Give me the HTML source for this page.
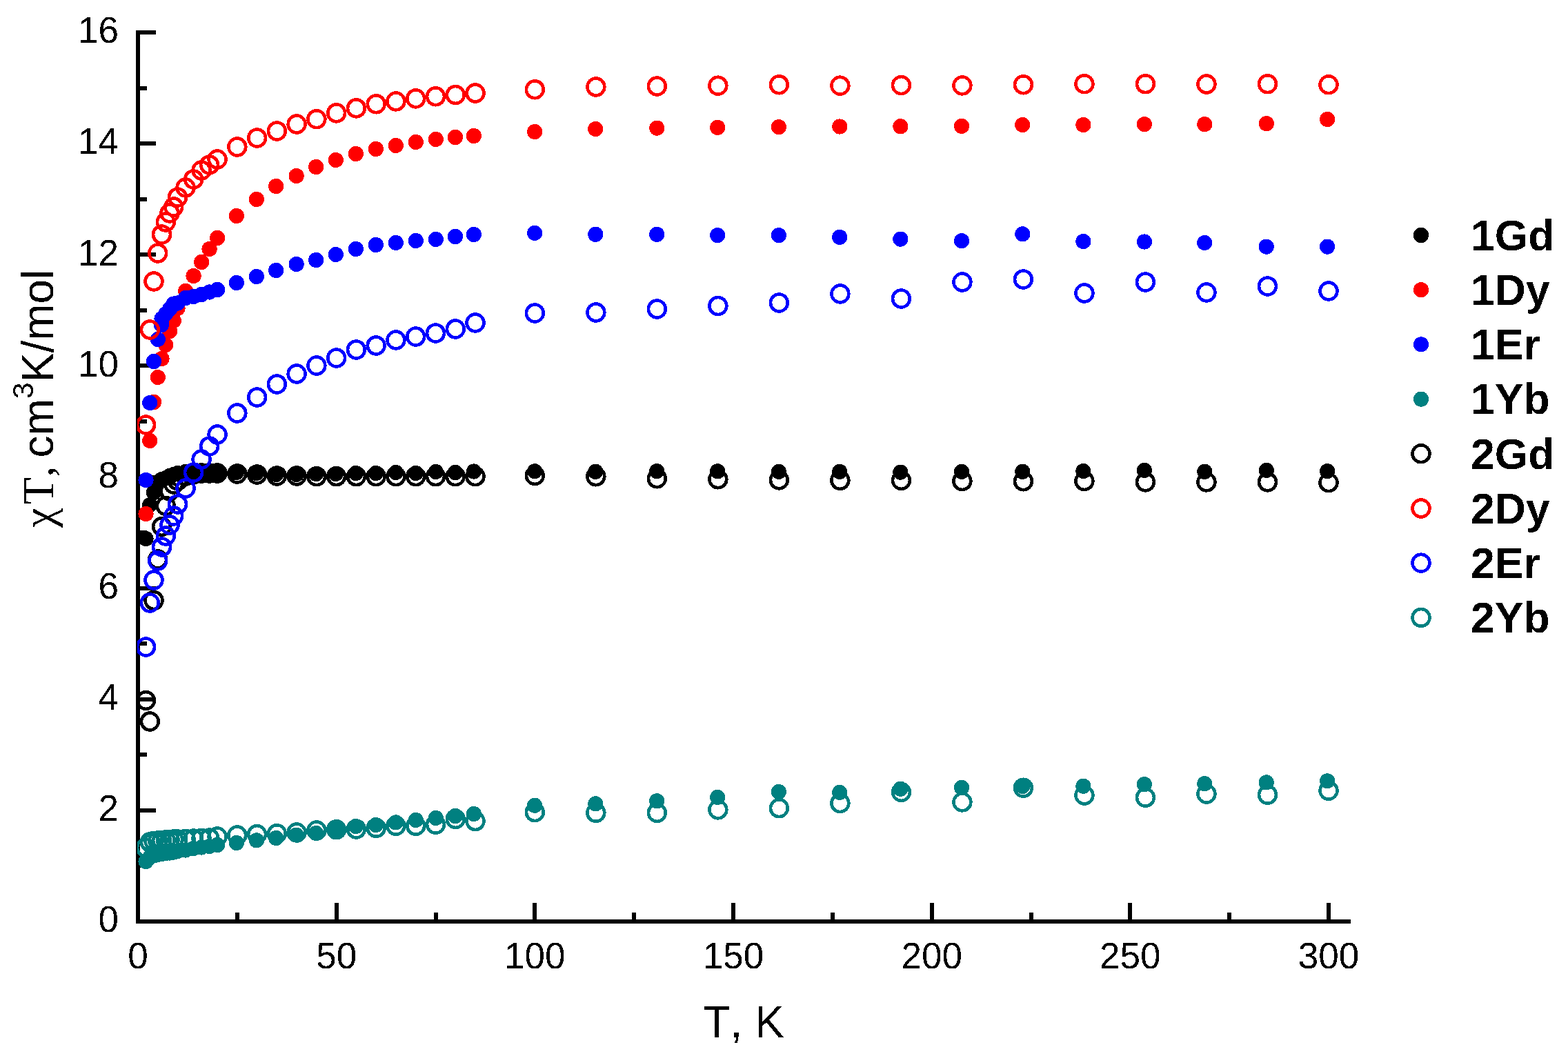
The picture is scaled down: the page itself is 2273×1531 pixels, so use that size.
<!DOCTYPE html>
<html lang="en"><head><meta charset="utf-8"><title>χT vs T</title>
<style>
html,body{margin:0;padding:0;background:#fff;width:2273px;height:1531px;overflow:hidden;}
svg{display:block;}
text{font-kerning:none;}
</style></head><body>
<svg width="2273" height="1531" viewBox="0 0 2273 1531" shape-rendering="crispEdges">
<defs><filter id="bin" x="0" y="0" width="2273" height="1531" filterUnits="userSpaceOnUse" color-interpolation-filters="sRGB"><feComponentTransfer><feFuncA type="discrete" tableValues="0 1"/></feComponentTransfer></filter><clipPath id="pc"><rect x="199" y="0" width="2074" height="1531"/></clipPath></defs>
<rect x="0" y="0" width="2273" height="1531" fill="#fff"/>
<g fill="#000"><rect x="197" y="44" width="6" height="1295"/><rect x="197" y="1333" width="1761" height="6"/><rect x="197" y="1333.00" width="29" height="6"/><rect x="197" y="1252.44" width="16" height="6"/><rect x="197" y="1171.88" width="29" height="6"/><rect x="197" y="1091.31" width="16" height="6"/><rect x="197" y="1010.75" width="29" height="6"/><rect x="197" y="930.19" width="16" height="6"/><rect x="197" y="849.62" width="29" height="6"/><rect x="197" y="769.06" width="16" height="6"/><rect x="197" y="688.50" width="29" height="6"/><rect x="197" y="607.94" width="16" height="6"/><rect x="197" y="527.38" width="29" height="6"/><rect x="197" y="446.81" width="16" height="6"/><rect x="197" y="366.25" width="29" height="6"/><rect x="197" y="285.69" width="16" height="6"/><rect x="197" y="205.12" width="29" height="6"/><rect x="197" y="124.56" width="16" height="6"/><rect x="197" y="44.00" width="29" height="6"/><rect x="197.00" y="1309" width="6" height="30"/><rect x="340.83" y="1323" width="6" height="16"/><rect x="484.67" y="1309" width="6" height="30"/><rect x="628.50" y="1323" width="6" height="16"/><rect x="772.33" y="1309" width="6" height="30"/><rect x="916.17" y="1323" width="6" height="16"/><rect x="1060.00" y="1309" width="6" height="30"/><rect x="1203.83" y="1323" width="6" height="16"/><rect x="1347.67" y="1309" width="6" height="30"/><rect x="1491.50" y="1323" width="6" height="16"/><rect x="1635.33" y="1309" width="6" height="30"/><rect x="1779.17" y="1323" width="6" height="16"/><rect x="1923.00" y="1309" width="6" height="30"/></g>
<g font-family="'Liberation Sans', Arial, sans-serif" font-size="53" fill="#000" filter="url(#bin)"><text x="172" y="1351.3" text-anchor="end">0</text><text x="172" y="1190.2" text-anchor="end">2</text><text x="172" y="1029.0" text-anchor="end">4</text><text x="172" y="867.9" text-anchor="end">6</text><text x="172" y="706.8" text-anchor="end">8</text><text x="172" y="545.7" text-anchor="end">10</text><text x="172" y="384.6" text-anchor="end">12</text><text x="172" y="223.4" text-anchor="end">14</text><text x="172" y="62.3" text-anchor="end">16</text><text x="200.0" y="1404" text-anchor="middle">0</text><text x="487.7" y="1404" text-anchor="middle">50</text><text x="775.3" y="1404" text-anchor="middle">100</text><text x="1063.0" y="1404" text-anchor="middle">150</text><text x="1350.7" y="1404" text-anchor="middle">200</text><text x="1638.3" y="1404" text-anchor="middle">250</text><text x="1926.0" y="1404" text-anchor="middle">300</text></g>
<g fill="#000" filter="url(#bin)"><text x="1019.5" y="1504" font-family="'Liberation Sans', Arial, sans-serif" font-size="64">T, K</text><text transform="translate(77,0) rotate(-90)" font-size="64"><tspan x="-764.7" font-family="'Liberation Serif', 'Times New Roman', serif">χ</tspan><tspan x="-731.3" font-family="'Liberation Serif', 'Times New Roman', serif">T</tspan><tspan x="-691.5" font-family="'Liberation Serif', 'Times New Roman', serif">,</tspan><tspan x="-663.5" font-family="'Liberation Sans', Arial, sans-serif">cm</tspan><tspan font-family="'Liberation Sans', Arial, sans-serif" font-size="43" dy="-29">3</tspan><tspan font-family="'Liberation Sans', Arial, sans-serif" dy="29">K/mol</tspan></text></g>
<g clip-path="url(#pc)">
<g fill="#000000"><circle cx="211.51" cy="781.00" r="11.1"/><circle cx="217.26" cy="732.00" r="11.1"/><circle cx="223.01" cy="714.00" r="11.1"/><circle cx="228.77" cy="699.00" r="11.1"/><circle cx="234.52" cy="695.00" r="11.1"/><circle cx="240.27" cy="693.00" r="11.1"/><circle cx="246.03" cy="690.00" r="11.1"/><circle cx="251.78" cy="688.00" r="11.1"/><circle cx="257.53" cy="686.00" r="11.1"/><circle cx="269.04" cy="684.00" r="11.1"/><circle cx="280.55" cy="684.00" r="11.1"/><circle cx="292.05" cy="685.00" r="11.1"/><circle cx="303.56" cy="685.00" r="11.1"/><circle cx="315.07" cy="685.00" r="11.1"/><circle cx="342.90" cy="685.00" r="11.1"/><circle cx="371.90" cy="686.00" r="11.1"/><circle cx="400.10" cy="688.00" r="11.1"/><circle cx="429.60" cy="688.00" r="11.1"/><circle cx="458.10" cy="687.00" r="11.1"/><circle cx="486.70" cy="687.00" r="11.1"/><circle cx="515.90" cy="686.00" r="11.1"/><circle cx="544.90" cy="686.00" r="11.1"/><circle cx="573.80" cy="685.00" r="11.1"/><circle cx="602.80" cy="686.00" r="11.1"/><circle cx="631.80" cy="684.00" r="11.1"/><circle cx="660.00" cy="685.00" r="11.1"/><circle cx="686.90" cy="683.50" r="11.1"/><circle cx="775.10" cy="683.30" r="11.1"/><circle cx="863.30" cy="683.80" r="11.1"/><circle cx="952.20" cy="683.10" r="11.1"/><circle cx="1040.20" cy="683.30" r="11.1"/><circle cx="1128.90" cy="683.80" r="11.1"/><circle cx="1217.20" cy="683.80" r="11.1"/><circle cx="1305.40" cy="684.60" r="11.1"/><circle cx="1394.00" cy="683.80" r="11.1"/><circle cx="1482.30" cy="683.80" r="11.1"/><circle cx="1570.40" cy="683.10" r="11.1"/><circle cx="1658.90" cy="681.90" r="11.1"/><circle cx="1746.30" cy="683.80" r="11.1"/><circle cx="1835.80" cy="681.90" r="11.1"/><circle cx="1924.10" cy="683.10" r="11.1"/></g>
<g fill="#ff0000"><circle cx="211.51" cy="745.00" r="11.1"/><circle cx="217.26" cy="639.00" r="11.1"/><circle cx="223.01" cy="583.00" r="11.1"/><circle cx="228.77" cy="547.00" r="11.1"/><circle cx="234.52" cy="520.00" r="11.1"/><circle cx="240.27" cy="500.00" r="11.1"/><circle cx="246.03" cy="480.00" r="11.1"/><circle cx="251.78" cy="465.00" r="11.1"/><circle cx="257.53" cy="447.00" r="11.1"/><circle cx="269.04" cy="422.00" r="11.1"/><circle cx="280.55" cy="400.00" r="11.1"/><circle cx="292.05" cy="380.00" r="11.1"/><circle cx="303.56" cy="361.00" r="11.1"/><circle cx="315.07" cy="345.00" r="11.1"/><circle cx="342.90" cy="313.00" r="11.1"/><circle cx="371.90" cy="289.00" r="11.1"/><circle cx="400.10" cy="270.00" r="11.1"/><circle cx="429.60" cy="255.00" r="11.1"/><circle cx="458.10" cy="242.00" r="11.1"/><circle cx="486.70" cy="232.00" r="11.1"/><circle cx="515.90" cy="223.00" r="11.1"/><circle cx="544.90" cy="216.00" r="11.1"/><circle cx="573.80" cy="211.00" r="11.1"/><circle cx="602.80" cy="206.00" r="11.1"/><circle cx="631.80" cy="202.00" r="11.1"/><circle cx="660.00" cy="199.00" r="11.1"/><circle cx="686.90" cy="197.00" r="11.1"/><circle cx="775.10" cy="191.00" r="11.1"/><circle cx="863.30" cy="187.00" r="11.1"/><circle cx="952.20" cy="185.60" r="11.1"/><circle cx="1040.20" cy="184.80" r="11.1"/><circle cx="1128.90" cy="184.10" r="11.1"/><circle cx="1217.20" cy="183.50" r="11.1"/><circle cx="1305.40" cy="183.20" r="11.1"/><circle cx="1394.00" cy="182.90" r="11.1"/><circle cx="1482.30" cy="181.00" r="11.1"/><circle cx="1570.40" cy="181.00" r="11.1"/><circle cx="1658.90" cy="180.20" r="11.1"/><circle cx="1746.30" cy="180.20" r="11.1"/><circle cx="1835.80" cy="179.20" r="11.1"/><circle cx="1924.10" cy="173.00" r="11.1"/></g>
<g fill="#0000ff"><circle cx="211.51" cy="696.00" r="11.1"/><circle cx="217.26" cy="584.00" r="11.1"/><circle cx="223.01" cy="524.00" r="11.1"/><circle cx="228.77" cy="492.00" r="11.1"/><circle cx="234.52" cy="462.00" r="11.1"/><circle cx="240.27" cy="455.00" r="11.1"/><circle cx="246.03" cy="448.00" r="11.1"/><circle cx="251.78" cy="440.50" r="11.1"/><circle cx="257.53" cy="439.50" r="11.1"/><circle cx="269.04" cy="432.00" r="11.1"/><circle cx="280.55" cy="430.00" r="11.1"/><circle cx="292.05" cy="427.00" r="11.1"/><circle cx="303.56" cy="423.50" r="11.1"/><circle cx="315.07" cy="420.00" r="11.1"/><circle cx="342.90" cy="410.00" r="11.1"/><circle cx="371.90" cy="401.00" r="11.1"/><circle cx="400.10" cy="392.00" r="11.1"/><circle cx="429.60" cy="383.00" r="11.1"/><circle cx="458.10" cy="377.00" r="11.1"/><circle cx="486.70" cy="369.00" r="11.1"/><circle cx="515.90" cy="361.00" r="11.1"/><circle cx="544.90" cy="355.00" r="11.1"/><circle cx="573.80" cy="352.00" r="11.1"/><circle cx="602.80" cy="349.00" r="11.1"/><circle cx="631.80" cy="347.00" r="11.1"/><circle cx="660.00" cy="343.00" r="11.1"/><circle cx="686.90" cy="340.00" r="11.1"/><circle cx="775.10" cy="337.80" r="11.1"/><circle cx="863.30" cy="339.80" r="11.1"/><circle cx="952.20" cy="339.80" r="11.1"/><circle cx="1040.20" cy="341.10" r="11.1"/><circle cx="1128.90" cy="341.10" r="11.1"/><circle cx="1217.20" cy="343.80" r="11.1"/><circle cx="1305.40" cy="346.60" r="11.1"/><circle cx="1394.00" cy="349.20" r="11.1"/><circle cx="1482.30" cy="339.30" r="11.1"/><circle cx="1570.40" cy="350.00" r="11.1"/><circle cx="1658.90" cy="350.50" r="11.1"/><circle cx="1746.30" cy="352.00" r="11.1"/><circle cx="1835.80" cy="357.60" r="11.1"/><circle cx="1924.10" cy="357.60" r="11.1"/><circle cx="234.00" cy="471.00" r="11.1"/></g>
<g fill="#008080"><circle cx="211.51" cy="1249.00" r="11.1"/><circle cx="217.26" cy="1243.00" r="11.1"/><circle cx="223.01" cy="1240.50" r="11.1"/><circle cx="228.77" cy="1239.00" r="11.1"/><circle cx="234.52" cy="1238.00" r="11.1"/><circle cx="240.27" cy="1237.00" r="11.1"/><circle cx="246.03" cy="1236.50" r="11.1"/><circle cx="251.78" cy="1235.50" r="11.1"/><circle cx="257.53" cy="1234.00" r="11.1"/><circle cx="269.04" cy="1232.50" r="11.1"/><circle cx="280.55" cy="1230.00" r="11.1"/><circle cx="292.05" cy="1228.50" r="11.1"/><circle cx="303.56" cy="1227.00" r="11.1"/><circle cx="315.07" cy="1225.00" r="11.1"/><circle cx="342.90" cy="1222.00" r="11.1"/><circle cx="371.90" cy="1218.40" r="11.1"/><circle cx="400.10" cy="1215.00" r="11.1"/><circle cx="429.60" cy="1210.60" r="11.1"/><circle cx="458.10" cy="1208.00" r="11.1"/><circle cx="486.70" cy="1203.00" r="11.1"/><circle cx="515.90" cy="1198.00" r="11.1"/><circle cx="544.90" cy="1196.00" r="11.1"/><circle cx="573.80" cy="1192.40" r="11.1"/><circle cx="602.80" cy="1189.00" r="11.1"/><circle cx="631.80" cy="1186.00" r="11.1"/><circle cx="660.00" cy="1183.00" r="11.1"/><circle cx="686.90" cy="1180.00" r="11.1"/><circle cx="775.10" cy="1167.70" r="11.1"/><circle cx="863.30" cy="1165.30" r="11.1"/><circle cx="952.20" cy="1161.30" r="11.1"/><circle cx="1040.20" cy="1155.90" r="11.1"/><circle cx="1128.90" cy="1148.00" r="11.1"/><circle cx="1217.20" cy="1148.90" r="11.1"/><circle cx="1305.40" cy="1143.80" r="11.1"/><circle cx="1394.00" cy="1141.90" r="11.1"/><circle cx="1482.30" cy="1140.00" r="11.1"/><circle cx="1570.40" cy="1139.80" r="11.1"/><circle cx="1658.90" cy="1137.10" r="11.1"/><circle cx="1746.30" cy="1136.20" r="11.1"/><circle cx="1835.80" cy="1134.40" r="11.1"/><circle cx="1924.10" cy="1132.30" r="11.1"/></g>
<g fill="none" stroke="#000000" stroke-width="4.6"><circle cx="211.51" cy="1015.50" r="12.45"/><circle cx="217.26" cy="1046.00" r="12.45"/><circle cx="223.01" cy="870.50" r="12.45"/><circle cx="228.77" cy="811.00" r="12.45"/><circle cx="234.52" cy="763.50" r="12.45"/><circle cx="240.27" cy="733.50" r="12.45"/><circle cx="246.03" cy="712.00" r="12.45"/><circle cx="251.78" cy="702.00" r="12.45"/><circle cx="257.53" cy="697.00" r="12.45"/><circle cx="269.04" cy="690.00" r="12.45"/><circle cx="280.55" cy="688.00" r="12.45"/><circle cx="292.05" cy="686.00" r="12.45"/><circle cx="303.56" cy="686.00" r="12.45"/><circle cx="315.07" cy="686.00" r="12.45"/><circle cx="343.83" cy="687.00" r="12.45"/><circle cx="372.60" cy="688.00" r="12.45"/><circle cx="401.37" cy="690.00" r="12.45"/><circle cx="430.13" cy="690.00" r="12.45"/><circle cx="458.90" cy="690.70" r="12.45"/><circle cx="487.67" cy="690.70" r="12.45"/><circle cx="516.43" cy="690.70" r="12.45"/><circle cx="545.20" cy="690.70" r="12.45"/><circle cx="573.97" cy="690.70" r="12.45"/><circle cx="602.73" cy="690.70" r="12.45"/><circle cx="631.50" cy="690.70" r="12.45"/><circle cx="660.27" cy="690.70" r="12.45"/><circle cx="689.03" cy="690.70" r="12.45"/><circle cx="775.33" cy="689.50" r="12.45"/><circle cx="863.85" cy="690.80" r="12.45"/><circle cx="952.36" cy="693.80" r="12.45"/><circle cx="1040.87" cy="694.80" r="12.45"/><circle cx="1129.38" cy="695.90" r="12.45"/><circle cx="1217.90" cy="696.40" r="12.45"/><circle cx="1306.41" cy="696.40" r="12.45"/><circle cx="1394.92" cy="697.50" r="12.45"/><circle cx="1483.44" cy="697.80" r="12.45"/><circle cx="1571.95" cy="697.50" r="12.45"/><circle cx="1660.46" cy="698.90" r="12.45"/><circle cx="1748.97" cy="698.90" r="12.45"/><circle cx="1837.49" cy="698.90" r="12.45"/><circle cx="1926.00" cy="699.70" r="12.45"/></g>
<g fill="none" stroke="#ff0000" stroke-width="4.6"><circle cx="211.51" cy="616.00" r="12.45"/><circle cx="217.26" cy="478.00" r="12.45"/><circle cx="223.01" cy="408.00" r="12.45"/><circle cx="228.77" cy="367.00" r="12.45"/><circle cx="234.52" cy="340.00" r="12.45"/><circle cx="240.27" cy="322.00" r="12.45"/><circle cx="246.03" cy="309.00" r="12.45"/><circle cx="251.78" cy="300.00" r="12.45"/><circle cx="257.53" cy="286.00" r="12.45"/><circle cx="269.04" cy="272.00" r="12.45"/><circle cx="280.55" cy="260.00" r="12.45"/><circle cx="292.05" cy="247.00" r="12.45"/><circle cx="303.56" cy="239.00" r="12.45"/><circle cx="315.07" cy="231.00" r="12.45"/><circle cx="343.83" cy="213.00" r="12.45"/><circle cx="372.60" cy="200.00" r="12.45"/><circle cx="401.37" cy="190.00" r="12.45"/><circle cx="430.13" cy="180.00" r="12.45"/><circle cx="458.90" cy="172.70" r="12.45"/><circle cx="487.67" cy="163.90" r="12.45"/><circle cx="516.43" cy="156.90" r="12.45"/><circle cx="545.20" cy="150.80" r="12.45"/><circle cx="573.97" cy="146.90" r="12.45"/><circle cx="602.73" cy="142.90" r="12.45"/><circle cx="631.50" cy="139.80" r="12.45"/><circle cx="660.27" cy="137.50" r="12.45"/><circle cx="689.03" cy="135.00" r="12.45"/><circle cx="775.33" cy="129.80" r="12.45"/><circle cx="863.85" cy="126.00" r="12.45"/><circle cx="952.36" cy="125.00" r="12.45"/><circle cx="1040.87" cy="124.20" r="12.45"/><circle cx="1129.38" cy="122.80" r="12.45"/><circle cx="1217.90" cy="124.20" r="12.45"/><circle cx="1306.41" cy="123.60" r="12.45"/><circle cx="1394.92" cy="123.90" r="12.45"/><circle cx="1483.44" cy="122.80" r="12.45"/><circle cx="1571.95" cy="121.70" r="12.45"/><circle cx="1660.46" cy="121.70" r="12.45"/><circle cx="1748.97" cy="122.00" r="12.45"/><circle cx="1837.49" cy="121.70" r="12.45"/><circle cx="1926.00" cy="122.80" r="12.45"/></g>
<g fill="none" stroke="#0000ff" stroke-width="4.6"><circle cx="211.51" cy="938.00" r="12.45"/><circle cx="217.26" cy="874.00" r="12.45"/><circle cx="223.01" cy="841.00" r="12.45"/><circle cx="228.77" cy="813.00" r="12.45"/><circle cx="234.52" cy="793.00" r="12.45"/><circle cx="240.27" cy="777.00" r="12.45"/><circle cx="246.03" cy="761.00" r="12.45"/><circle cx="251.78" cy="748.00" r="12.45"/><circle cx="257.53" cy="731.00" r="12.45"/><circle cx="269.04" cy="708.00" r="12.45"/><circle cx="280.55" cy="685.00" r="12.45"/><circle cx="292.05" cy="666.00" r="12.45"/><circle cx="303.56" cy="647.00" r="12.45"/><circle cx="315.07" cy="630.00" r="12.45"/><circle cx="343.83" cy="599.00" r="12.45"/><circle cx="372.60" cy="576.00" r="12.45"/><circle cx="401.37" cy="557.00" r="12.45"/><circle cx="430.13" cy="542.00" r="12.45"/><circle cx="458.90" cy="530.00" r="12.45"/><circle cx="487.67" cy="519.00" r="12.45"/><circle cx="516.43" cy="507.00" r="12.45"/><circle cx="545.20" cy="501.00" r="12.45"/><circle cx="573.97" cy="493.00" r="12.45"/><circle cx="602.73" cy="488.00" r="12.45"/><circle cx="631.50" cy="483.00" r="12.45"/><circle cx="660.27" cy="477.00" r="12.45"/><circle cx="689.03" cy="468.00" r="12.45"/><circle cx="775.33" cy="454.00" r="12.45"/><circle cx="863.85" cy="453.00" r="12.45"/><circle cx="952.36" cy="448.00" r="12.45"/><circle cx="1040.87" cy="443.50" r="12.45"/><circle cx="1129.38" cy="439.00" r="12.45"/><circle cx="1217.90" cy="426.00" r="12.45"/><circle cx="1306.41" cy="433.00" r="12.45"/><circle cx="1394.92" cy="409.00" r="12.45"/><circle cx="1483.44" cy="405.00" r="12.45"/><circle cx="1571.95" cy="425.00" r="12.45"/><circle cx="1660.46" cy="409.00" r="12.45"/><circle cx="1748.97" cy="424.00" r="12.45"/><circle cx="1837.49" cy="415.00" r="12.45"/><circle cx="1926.00" cy="422.00" r="12.45"/></g>
<g fill="none" stroke="#008080" stroke-width="4.6"><circle cx="211.51" cy="1229.00" r="12.45"/><circle cx="217.26" cy="1221.00" r="12.45"/><circle cx="223.01" cy="1219.50" r="12.45"/><circle cx="228.77" cy="1219.00" r="12.45"/><circle cx="234.52" cy="1218.50" r="12.45"/><circle cx="240.27" cy="1218.00" r="12.45"/><circle cx="246.03" cy="1217.50" r="12.45"/><circle cx="251.78" cy="1217.00" r="12.45"/><circle cx="257.53" cy="1217.00" r="12.45"/><circle cx="269.04" cy="1216.50" r="12.45"/><circle cx="280.55" cy="1216.00" r="12.45"/><circle cx="292.05" cy="1215.50" r="12.45"/><circle cx="303.56" cy="1215.00" r="12.45"/><circle cx="315.07" cy="1213.00" r="12.45"/><circle cx="343.83" cy="1211.00" r="12.45"/><circle cx="372.60" cy="1209.60" r="12.45"/><circle cx="401.37" cy="1208.70" r="12.45"/><circle cx="430.13" cy="1207.00" r="12.45"/><circle cx="458.90" cy="1204.00" r="12.45"/><circle cx="487.67" cy="1202.70" r="12.45"/><circle cx="516.43" cy="1202.00" r="12.45"/><circle cx="545.20" cy="1200.40" r="12.45"/><circle cx="573.97" cy="1197.30" r="12.45"/><circle cx="602.73" cy="1197.30" r="12.45"/><circle cx="631.50" cy="1195.30" r="12.45"/><circle cx="660.27" cy="1187.50" r="12.45"/><circle cx="689.03" cy="1190.50" r="12.45"/><circle cx="775.33" cy="1177.60" r="12.45"/><circle cx="863.85" cy="1178.40" r="12.45"/><circle cx="952.36" cy="1178.40" r="12.45"/><circle cx="1040.87" cy="1173.90" r="12.45"/><circle cx="1129.38" cy="1171.70" r="12.45"/><circle cx="1217.90" cy="1164.50" r="12.45"/><circle cx="1306.41" cy="1148.40" r="12.45"/><circle cx="1394.92" cy="1162.90" r="12.45"/><circle cx="1483.44" cy="1142.20" r="12.45"/><circle cx="1571.95" cy="1153.00" r="12.45"/><circle cx="1660.46" cy="1156.20" r="12.45"/><circle cx="1748.97" cy="1151.10" r="12.45"/><circle cx="1837.49" cy="1152.20" r="12.45"/><circle cx="1926.00" cy="1146.30" r="12.45"/></g>
</g>
<g><circle cx="2060" cy="341.0" r="11.1" fill="#000000"/><circle cx="2060" cy="420.2" r="11.1" fill="#ff0000"/><circle cx="2060" cy="499.4" r="11.1" fill="#0000ff"/><circle cx="2060" cy="578.6" r="11.1" fill="#008080"/><circle cx="2060" cy="657.8" r="12.45" fill="none" stroke="#000000" stroke-width="4.6"/><circle cx="2060" cy="737.0" r="12.45" fill="none" stroke="#ff0000" stroke-width="4.6"/><circle cx="2060" cy="816.2" r="12.45" fill="none" stroke="#0000ff" stroke-width="4.6"/><circle cx="2060" cy="895.4" r="12.45" fill="none" stroke="#008080" stroke-width="4.6"/></g>
<g font-family="'Liberation Sans', Arial, sans-serif" font-weight="bold" font-size="62.5" fill="#000" filter="url(#bin)"><text x="2132" y="362.8">1Gd</text><text x="2132" y="442.0">1Dy</text><text x="2132" y="521.2">1Er</text><text x="2132" y="600.4">1Yb</text><text x="2132" y="679.6">2Gd</text><text x="2132" y="758.8">2Dy</text><text x="2132" y="838.0">2Er</text><text x="2132" y="917.2">2Yb</text></g>
</svg>
</body></html>
